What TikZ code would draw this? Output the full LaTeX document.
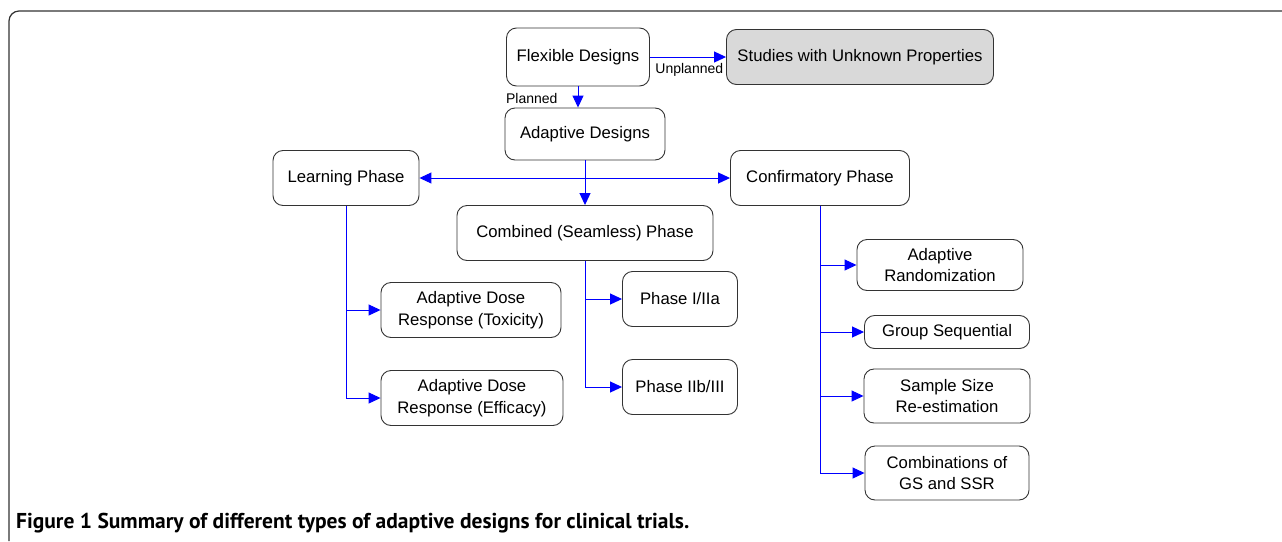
\documentclass[tikz,border=0pt]{standalone}
\usepackage{fontspec}
\setmainfont{Liberation Sans}
\newfontfamily\capfont{PT Sans}
\usetikzlibrary{arrows.meta, positioning, calc}

\tikzset{
  dbox/.style 2 args={draw=black!80, line width=0.9pt, rounded corners=10pt,
    minimum width=#1pt, minimum height=#2pt, inner sep=0pt, align=center,
    font=\fontsize{16.7}{21.5}\selectfont},
  link/.style={draw=blue, line width=1pt, -{Triangle[length=12pt,width=11pt]}},
  tag/.style={font=\fontsize{14}{16}\selectfont, inner sep=1pt}
}

\begin{document}
\begin{tikzpicture}[x=1pt, y=-1pt]
		\useasboundingbox (0,0) rectangle (1282,541);
		% frame
		\draw[black!80, line width=1.2pt] (9,541) -- (9,21) arc[start angle=180, end angle=90, radius=10pt] -- (1282,11);
		
		\node[dbox={143}{58}] (flex) at (578,57) {Flexible Designs};
		\node[dbox={267}{55}, fill=black!15] (unk) at (860,57) {Studies with Unknown Properties};
		\node[dbox={160}{52}] (adapt) at (585,134) {Adaptive Designs};
		
		\node[dbox={146}{55}] (learn) at (346,178) {Learning Phase};
		\node[dbox={179}{55}] (conf) at (820,178) {Confirmatory Phase};
		\node[dbox={256}{55}] (comb) at (585,233) {Combined (Seamless) Phase};
		
		\node[dbox={180}{55}] (tox) at (471,310) {Adaptive Dose\\Response (Toxicity)};
		\node[dbox={182}{55}] (eff) at (472,398) {Adaptive Dose\\Response (Efficacy)};
		
		\node[dbox={115}{55}] (ph1) at (680,299) {Phase I/IIa};
		\node[dbox={115}{55}] (ph2) at (680,387) {Phase IIb/III};
		
		\node[dbox={166}{51}] (rand) at (940,265) {Adaptive\\Randomization};
		\node[dbox={165}{33}] (gs) at (947,332) {Group Sequential};
		\node[dbox={166}{54}] (ssr) at (947,396) {Sample Size\\Re-estimation};
		\node[dbox={164}{54}] (gsssr) at (947,473) {Combinations of\\GS and SSR};
		
		\draw[link] (flex.east) -- node[tag, pos=0, anchor=north west, xshift=4pt, yshift=-5pt] {Unplanned} (unk.west);
		\draw[link] (flex.south) -- node[tag, pos=0.5, anchor=east, xshift=-19pt, yshift=-1pt] {Planned} (flex.south |- adapt.north);
		\draw[link] (adapt.south) -- (comb.north);
		\draw[link, {Triangle[length=12pt,width=11pt]}-{Triangle[length=12pt,width=11pt]}] (learn.east) -- (conf.west);
		
		\draw[link] (learn.south) |- (tox.west);
		\draw[link] (learn.south) |- (eff.west);
		\draw[link] (comb.south) |- (ph1.west);
		\draw[link] (comb.south) |- (ph2.west);
		\draw[link] (conf.south) |- (rand.west);
		\draw[link] (conf.south) |- (gs.west);
		\draw[link] (conf.south) |- (ssr.west);
		\draw[link] (conf.south) |- (gsssr.west);
		
		\node[anchor=base west, inner sep=0pt, font=\capfont\bfseries\fontsize{21.5}{24}\selectfont] (cap) at (16,528)
		  {Figure 1 Summary of different types of adaptive designs for clinical trials.};
	\end{tikzpicture}
\end{document}
